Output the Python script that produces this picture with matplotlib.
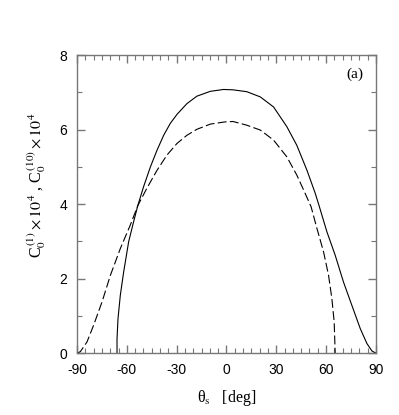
import matplotlib
matplotlib.use("Agg")
import matplotlib.pyplot as plt
from matplotlib.ticker import MultipleLocator

plt.rcParams["mathtext.fontset"] = "stix"
plt.rcParams["axes.unicode_minus"] = False

# C0^(1) (solid)
theta_1 = [-65.9, -65.9, -65.3, -63.9, -61.9, -58.9, -55.9, -53.4, -49.9, -45.8,
           -41.8, -37.8, -33.8, -29.8, -23.8, -17.8, -9.7, -1.7, 4.0, 12.3,
           20.4, 28.4, 36.4, 42.4, 48.5, 53.5, 56.0, 60.5, 65.5, 70.5,
           75.5, 80.6, 84.6, 87.6, 90.0]
c0_1 = [0.0, 0.39, 0.93, 1.56, 2.18, 2.99, 3.53, 3.96, 4.47, 5.00,
        5.45, 5.85, 6.17, 6.41, 6.70, 6.90, 7.03, 7.08, 7.07, 7.02,
        6.88, 6.61, 6.08, 5.58, 4.91, 4.29, 3.93, 3.26, 2.63, 1.91,
        1.29, 0.66, 0.26, 0.06, 0.0]

# C0^(10) (dashed)
theta_10 = [-90.0, -88.0, -84.0, -80.0, -74.9, -69.9, -63.9, -57.9, -53.4, -47.9,
            -41.8, -35.8, -29.8, -23.8, -17.8, -9.7, -0.7, 4.0, 12.3, 20.4,
            28.4, 36.4, 42.4, 46.5, 51.0, 54.5, 58.5, 61.5, 63.5, 64.9,
            65.5]
c0_10 = [0.0, 0.04, 0.30, 0.75, 1.38, 2.09, 2.81, 3.44, 3.96, 4.43,
         4.91, 5.32, 5.63, 5.85, 6.01, 6.15, 6.21, 6.22, 6.12, 5.99,
         5.72, 5.27, 4.78, 4.38, 3.93, 3.35, 2.72, 2.09, 1.47, 0.84,
         0.0]

fig = plt.figure(figsize=(3.99, 4.15), dpi=100)
ax = fig.add_axes([0.193, 0.149, 0.749, 0.718])

ax.plot(theta_1, c0_1, color="black", lw=0.8)
ax.plot(theta_10, c0_10, color="black", lw=0.8, dashes=(8, 3))

ax.set_xlim(-90, 90)
ax.set_ylim(0, 8)
ax.xaxis.set_major_locator(MultipleLocator(30))
ax.xaxis.set_minor_locator(MultipleLocator(5))
ax.yaxis.set_major_locator(MultipleLocator(2))
ax.yaxis.set_minor_locator(MultipleLocator(1))
ax.tick_params(which="both", direction="in", top=True, right=True,
               color="#777777", labelsize=10, labelfontfamily="Liberation Sans", pad=7)
ax.tick_params(which="major", length=6, width=1)
ax.tick_params(which="minor", length=3.5, width=0.8)
for s in ax.spines.values():
    s.set_color("#777777")
    s.set_linewidth(1)

ax.set_xlabel(r"θ$_{\rm s}$   [deg]", fontsize=11.5, family="Liberation Serif")
ax.xaxis.set_label_coords(0.5, -0.118)
ax.set_ylabel(r"C$_0^{\,(1)}\times10^4$ , C$_0^{\,(10)}\times10^4$",
              fontsize=11.5, family="Liberation Serif")
ax.yaxis.set_label_coords(-0.097, 0.564)
ax.text(77.1, 7.48, "(a)", fontsize=11, family="Liberation Serif", ha="center", va="center")

fig.savefig("out.png", dpi=100)
